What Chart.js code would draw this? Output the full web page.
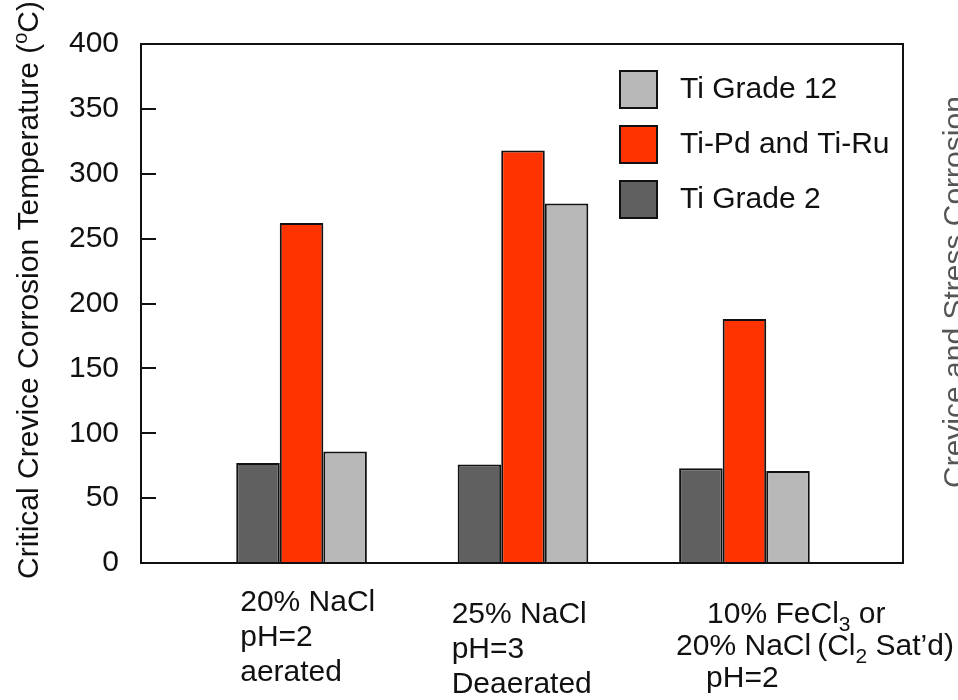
<!DOCTYPE html>
<html><head><meta charset="utf-8">
<script src="https://cdn.jsdelivr.net/npm/chart.js@4/dist/chart.umd.min.js"></script>
<style>html,body{margin:0;padding:0;background:#fff;overflow:hidden}</style>
</head><body>
<canvas id="c" width="958" height="700"></canvas>
<script>
// ---- data ----
const categoryLabels = [
  ['20% NaCl', 'pH=2', 'aerated'],
  ['25% NaCl', 'pH=3', 'Deaerated'],
  ['10% FeCl_{3} or', '20% NaCl\u2009(Cl_{2} Sat\u2019d)', 'pH=2']
];
const seriesNames = ['Ti Grade 2', 'Ti-Pd and Ti-Ru', 'Ti Grade 12'];
const tiGrade2 = [77, 76, 73];
const tiPdRu = [262, 318, 188];
const tiGrade12 = [86, 277, 71];
const yTickValues = [0, 50, 100, 150, 200, 250, 300, 350, 400];
const yAxisTitle = 'Critical Crevice Corrosion Temperature (^{o}C)';
const sideText = 'Crevice and Stress Corrosion';

// ---- styles ----
const FONT = '"Liberation Sans", Arial, Helvetica, sans-serif';
const FS = 30;
const seriesColors = ['#606060', '#ff3300', '#b8b8b8'];
const INK = '#111111';

function toPoints(arr) { return arr.map((v, i) => ({ x: i + 1, y: v })); }

function drawRich(ctx, str, x, y, size, measureOnly) {
  const parts = str.split(/(_\{[^}]*\}|\^\{[^}]*\})/);
  for (const p of parts) {
    if (!p) continue;
    let txt = p, fs = size, dy = 0;
    if (p.startsWith('_{')) { txt = p.slice(2, -1); fs = Math.round(size * 0.7); dy = size * 0.25; }
    else if (p.startsWith('^{')) { txt = p.slice(2, -1); fs = Math.round(size * 0.65); dy = -size * 0.36; }
    ctx.font = fs + 'px ' + FONT;
    if (!measureOnly) ctx.fillText(txt, x, y + dy);
    x += ctx.measureText(txt).width;
  }
  return x;
}

const decor = {
  id: 'decor',
  afterDraw(chart) {
    const ctx = chart.ctx;
    const a = chart.chartArea;
    const ys = chart.scales.y;
    ctx.save();
    // frame
    ctx.strokeStyle = INK; ctx.lineWidth = 2;
    ctx.strokeRect(a.left, a.top, a.right - a.left, a.bottom - a.top);
    // inward tick marks
    ctx.beginPath();
    ys.ticks.forEach(t => {
      if (t.value === ys.min || t.value === ys.max) return;
      const y = Math.round(ys.getPixelForValue(t.value));
      ctx.moveTo(a.left, y); ctx.lineTo(a.left + 15, y);
    });
    ctx.stroke();

    // legend (reversed order, inside plot, top-right)
    ctx.textBaseline = 'middle';
    const order = [2, 1, 0];
    order.forEach((di, k) => {
      const ds = chart.data.datasets[di];
      const sx = a.right - 283, sy = a.top + 27 + k * 55;
      ctx.fillStyle = ds.backgroundColor;
      ctx.fillRect(sx, sy, 37, 37);
      ctx.lineWidth = 2; ctx.strokeStyle = INK;
      ctx.strokeRect(sx, sy, 37, 37);
      ctx.fillStyle = INK;
      ctx.font = FS + 'px ' + FONT;
      ctx.textAlign = 'left';
      ctx.fillText(ds.label, a.right - 223, sy + 19);
    });

    // category labels
    ctx.textBaseline = 'alphabetic';
    ctx.textAlign = 'left';
    ctx.fillStyle = INK;
    const indents = [[4, 4, 4], [-6, -6, -6], [28, -3, 27]];
    const firstBase = [48, 60, 60];
    const lineH = [35, 35, 32];
    const meta0 = chart.getDatasetMeta(0);
    categoryLabels.forEach((lines, i) => {
      const bar = meta0.data[i];
      const gl = bar.x - bar.width / 2;
      lines.forEach((ln, j) => {
        drawRich(ctx, ln, gl + indents[i][j], a.bottom + firstBase[i] + j * lineH[i], FS);
      });
    });

    // y axis title (rotated)
    ctx.save();
    ctx.translate(38, 290);
    ctx.rotate(-Math.PI / 2);
    const w = drawRich(ctx, yAxisTitle, 0, 0, FS, true);
    drawRich(ctx, yAxisTitle, -w / 2, 0, FS);
    ctx.restore();

    // cut-off neighbouring text on the right edge
    ctx.save();
    ctx.fillStyle = '#555555';
    ctx.translate(964, 488);
    ctx.rotate(-Math.PI / 2);
    ctx.font = FS + 'px ' + FONT;
    ctx.fillText(sideText, 0, 0);
    ctx.restore();

    ctx.restore();
  }
};

const datasets = [tiGrade2, tiPdRu, tiGrade12].map((arr, i) => ({
  label: seriesNames[i],
  data: toPoints(arr),
  backgroundColor: seriesColors[i],
  borderColor: INK,
  borderWidth: 2,
  categoryPercentage: 0.59,
  barPercentage: 1.0
}));

new Chart(document.getElementById('c'), {
  type: 'bar',
  data: { datasets },
  plugins: [decor],
  options: {
    responsive: false,
    animation: false,
    devicePixelRatio: 1,
    layout: { padding: { left: 0, top: 44, right: 55, bottom: 137 } },
    plugins: { legend: { display: false }, tooltip: { enabled: false } },
    scales: {
      x: {
        type: 'linear',
        min: 0.275, max: 3.716,
        offset: false,
        display: false,
        grid: { display: false },
        afterBuildTicks: s => { s.ticks = categoryLabels.map((_, i) => ({ value: i + 1 })); }
      },
      y: {
        type: 'linear',
        min: 0, max: 400,
        grid: { display: false, drawTicks: false },
        border: { display: false },
        afterBuildTicks: s => { s.ticks = yTickValues.map(v => ({ value: v })); },
        afterFit: s => { s.width = 141; },
        ticks: {
          color: INK,
          padding: 22,
          font: { size: FS, family: FONT }
        }
      }
    }
  }
});
</script>
</body></html>
